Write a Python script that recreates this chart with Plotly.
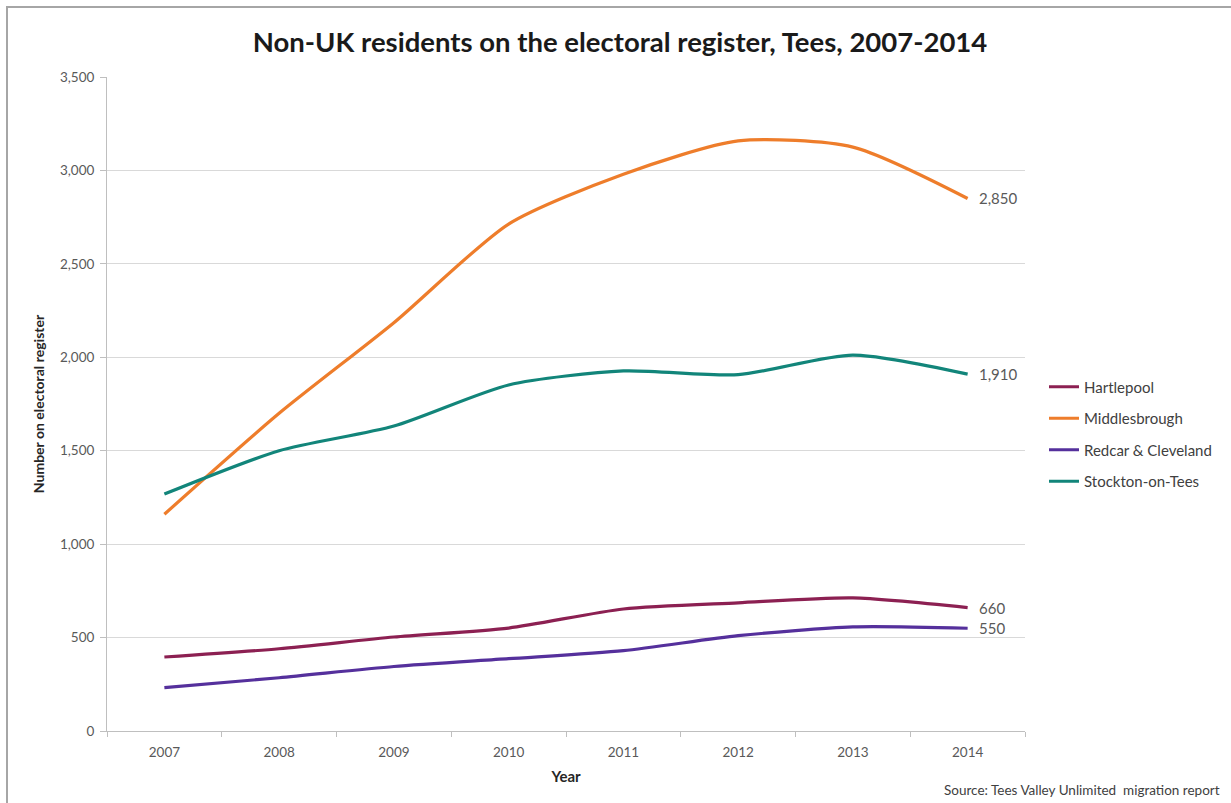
import plotly.graph_objects as go

years = ["2007", "2008", "2009", "2010", "2011", "2012", "2013", "2014"]
hartlepool = [396, 440, 503, 551, 653, 686, 712, 660]
middlesbrough = [1160, 1700, 2185, 2713, 2980, 3158, 3125, 2850]
redcar = [232, 285, 345, 387, 430, 510, 557, 550]
stockton = [1268, 1500, 1632, 1852, 1927, 1907, 2012, 1910]

series = [
    ("Hartlepool", hartlepool, "#8c2052"),
    ("Middlesbrough", middlesbrough, "#ee7d2b"),
    ("Redcar & Cleveland", redcar, "#55309c"),
    ("Stockton-on-Tees", stockton, "#12857a"),
]

FONT = "Lato"
fig = go.Figure()
for name, vals, col in series:
    fig.add_trace(go.Scatter(
        x=years, y=vals, name=name, mode="lines", legendgroup=name,
        line=dict(color=col, width=3.2, shape="spline", smoothing=0.7),
    ))

for name, vals, col in series:
    fig.add_annotation(
        x=len(years) - 1, y=vals[-1], text=f"{vals[-1]:,}", showarrow=False,
        xanchor="left", xshift=9, font=dict(family=FONT, size=15, color="#595959"),
    )

fig.add_annotation(
    xref="paper", yref="paper", x=(1222 - 107) / 918, y=(731 - 790) / 654,
    text="Source: Tees Valley Unlimited  migration report", showarrow=False,
    xanchor="right", yanchor="middle", font=dict(family=FONT, size=13.5, color="#404040"),
)

fig.add_shape(
    type="rect", xref="paper", yref="paper",
    x0=(7 - 107) / 918, x1=(1240 - 107) / 918,
    y0=(731 - 812) / 654, y1=(731 - 7) / 654,
    line=dict(color="#a6a6a6", width=2), layer="below",
)

fig.update_layout(
    width=1231, height=803,
    margin=dict(l=107, r=206, t=77, b=72),
    paper_bgcolor="white", plot_bgcolor="white",
    font=dict(family=FONT, color="#595959"),
    title=dict(
        text="<b>Non-UK residents on the electoral register, Tees, 2007-2014</b>",
        x=(620) / 1231, xanchor="center", y=1 - 42 / 803, yanchor="middle",
        font=dict(family=FONT, size=27.5, color="#1a1a1a"),
    ),
    showlegend=True,
    legend=dict(
        x=(1044 - 107) / 918, y=(731 - 434) / 654, xanchor="left", yanchor="middle",
        font=dict(family=FONT, size=15, color="#404040"),
        tracegroupgap=9, itemwidth=30, bgcolor="rgba(0,0,0,0)",
    ),
)

fig.update_xaxes(
    type="category", range=[-0.5, 7.5],
    showline=True, linecolor="#bfbfbf", linewidth=1,
    showgrid=False, ticks="outside", tickson="boundaries", ticklen=5, tickcolor="#bfbfbf",
    tickfont=dict(family=FONT, size=13.5, color="#595959"), ticklabelstandoff=9,
    title=dict(text="<b>Year</b>", font=dict(family=FONT, size=15, color="#262626"), standoff=12),
    zeroline=False,
)
fig.update_yaxes(
    range=[0, 3500], tickvals=[0, 500, 1000, 1500, 2000, 2500, 3000, 3500],
    tickformat=",", showline=True, linecolor="#bfbfbf", linewidth=1,
    showgrid=True, gridcolor="#d9d9d9", gridwidth=1,
    ticks="outside", ticklen=6, tickcolor="#bfbfbf",
    tickfont=dict(family=FONT, size=13.5, color="#595959"), ticklabelstandoff=3,
    title=dict(text="<b>Number on electoral register</b>", font=dict(family=FONT, size=14, color="#262626"), standoff=12),
    zeroline=False,
)

fig.write_html("out.html")
